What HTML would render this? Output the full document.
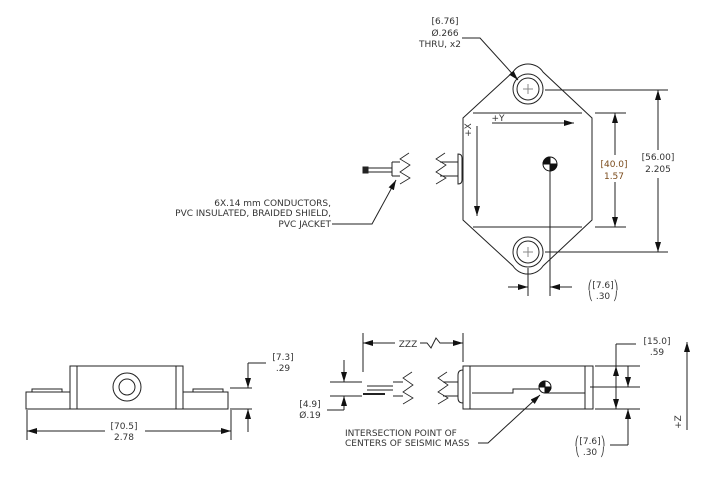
<!DOCTYPE html>
<html><head><style>
html,body{margin:0;padding:0;background:#fff;}
svg{display:block;}
text{font-family:"DejaVu Sans","Liberation Sans",sans-serif;font-size:9px;fill:#333;}
.b{fill:#7a4a1a;}
</style></head><body>
<svg width="724" height="478" viewBox="0 0 724 478" xmlns="http://www.w3.org/2000/svg">
<defs>
<marker id="a" markerWidth="10" markerHeight="6" refX="10" refY="3" orient="auto" markerUnits="userSpaceOnUse"><path d="M0,0 L10,3 L0,6z" fill="#111"/></marker>
</defs>
<g stroke="#222" stroke-width="1" fill="none">
<!-- top view body -->
<path d="M463,118 L513,72 A18,18 0 0 1 543,72 L592,118 L592,220 L543,266 A18,18 0 0 1 513,266 L463,220 Z"/>
<line x1="473" y1="113" x2="582" y2="113"/>
<line x1="473" y1="227" x2="582" y2="227"/>
<circle cx="528" cy="89" r="15"/><circle cx="528" cy="89" r="11"/>
<circle cx="528" cy="252" r="15"/><circle cx="528" cy="252" r="11"/>
<path d="M523,89h10M528,84v10M523,252h10M528,247v10" stroke="#888"/>
<line x1="492" y1="123" x2="574" y2="123" marker-end="url(#a)"/>
<line x1="477" y1="126" x2="477" y2="216" marker-end="url(#a)"/>
<!-- connector top -->
<path d="M458,154 Q462,154 462,158 L462,180 Q462,184 458,184 Z" fill="#fff"/>
<line x1="440" y1="162" x2="458" y2="162"/><line x1="440" y1="176" x2="458" y2="176"/>
<path d="M445,153 L436,159 L446,165 L436,172 L446,178 L436,184" stroke-width="0.8"/>
<path d="M409,153 L400,159 L410,165 L400,172 L410,178 L400,184" stroke-width="0.8"/>
<line x1="392" y1="162" x2="400" y2="162"/><line x1="392" y1="176" x2="400" y2="176"/>
<line x1="392" y1="162" x2="392" y2="176"/>
<line x1="367" y1="168" x2="392" y2="168"/><line x1="367" y1="172" x2="392" y2="172"/>
<rect x="363" y="167" width="5" height="6" fill="#222"/>
<path d="M332,224 L372,224 L396,180" marker-end="url(#a)"/>
<!-- hole leader -->
<path d="M462,38 L480,38 L518,80" marker-end="url(#a)"/>
<!-- dims top -->
<line x1="545" y1="90" x2="668" y2="90"/><line x1="545" y1="252" x2="668" y2="252"/>
<line x1="658" y1="150" x2="658" y2="90" marker-end="url(#a)"/>
<line x1="658" y1="178" x2="658" y2="252" marker-end="url(#a)"/>
<line x1="595" y1="113" x2="626" y2="113"/><line x1="595" y1="227" x2="626" y2="227"/>
<line x1="615" y1="155" x2="615" y2="113" marker-end="url(#a)"/>
<line x1="615" y1="182" x2="615" y2="227" marker-end="url(#a)"/>
<line x1="550" y1="164" x2="550" y2="296"/>
<line x1="528" y1="268" x2="528" y2="296"/>
<line x1="508" y1="287" x2="528" y2="287" marker-end="url(#a)"/>
<line x1="572" y1="287" x2="550" y2="287" marker-end="url(#a)"/>
<!-- bottom left view -->
<rect x="26" y="392" width="202" height="17"/>
<rect x="70" y="366" width="113" height="43" fill="#fff"/>
<line x1="77" y1="366" x2="77" y2="409"/><line x1="176" y1="366" x2="176" y2="409"/>
<rect x="32" y="389" width="30" height="3"/><rect x="193" y="389" width="30" height="3"/>
<circle cx="127" cy="387" r="14"/><circle cx="127" cy="387" r="8"/>
<line x1="230" y1="388" x2="252" y2="388"/><line x1="230" y1="409" x2="252" y2="409"/>
<line x1="248" y1="363" x2="248" y2="388" marker-end="url(#a)"/>
<line x1="248" y1="432" x2="248" y2="409" marker-end="url(#a)"/>
<line x1="248" y1="363" x2="266" y2="363"/>
<line x1="27" y1="410" x2="27" y2="440"/><line x1="231" y1="410" x2="231" y2="440"/>
<line x1="105" y1="431" x2="27" y2="431" marker-end="url(#a)"/>
<line x1="145" y1="431" x2="231" y2="431" marker-end="url(#a)"/>
<!-- bottom right view -->
<rect x="463" y="366" width="130" height="43"/>
<line x1="470" y1="366" x2="470" y2="409"/><line x1="585" y1="366" x2="585" y2="409"/>
<path d="M472,393 L513,393 L513,389 L545,389 M545,393 L585,393"/>
<line x1="515" y1="409" x2="540" y2="409"/>
<path d="M463,370 Q458,370 458,375 L458,398 Q458,403 463,403"/>
<line x1="443" y1="382" x2="458" y2="382"/><line x1="443" y1="396" x2="458" y2="396"/>
<path d="M447,372 L438,378 L448,385 L438,392 L448,398 L438,404" stroke-width="0.8"/>
<path d="M412,372 L403,378 L413,385 L403,392 L413,398 L403,404" stroke-width="0.8"/>
<line x1="393" y1="382" x2="403" y2="382"/><line x1="393" y1="396" x2="403" y2="396"/>
<line x1="367" y1="386" x2="393" y2="386"/><line x1="367" y1="390" x2="393" y2="390"/>
<line x1="363" y1="394" x2="385" y2="394" stroke-width="2"/>
<line x1="330" y1="382" x2="362" y2="382"/><line x1="330" y1="396" x2="362" y2="396"/>
<line x1="344" y1="360" x2="344" y2="382" marker-end="url(#a)"/>
<line x1="344" y1="410" x2="344" y2="396" marker-end="url(#a)"/>
<line x1="327" y1="410" x2="344" y2="410"/>
<line x1="363" y1="333" x2="363" y2="372"/><line x1="463" y1="333" x2="463" y2="362"/>
<line x1="395" y1="343" x2="363" y2="343" marker-end="url(#a)"/>
<path d="M420,343 L427,343 L431,348 L436,338 L440,343 L442,343"/>
<line x1="442" y1="343" x2="463" y2="343" marker-end="url(#a)"/>
<path d="M478,443 L488,443 L540,395" marker-end="url(#a)"/>
<line x1="595" y1="366" x2="640" y2="366"/><line x1="595" y1="409" x2="640" y2="409"/>
<line x1="590" y1="387" x2="640" y2="387"/>
<path d="M636,344 L616,344"/>
<line x1="616" y1="344" x2="616" y2="366"/>
<line x1="616" y1="388" x2="616" y2="366" marker-end="url(#a)"/>
<line x1="616" y1="388" x2="616" y2="409" marker-end="url(#a)"/>
<line x1="628" y1="366" x2="628" y2="387" marker-end="url(#a)"/>
<line x1="628" y1="445" x2="628" y2="409" marker-end="url(#a)"/>
<line x1="610" y1="445" x2="628" y2="445"/>
<line x1="687" y1="430" x2="687" y2="342" marker-end="url(#a)"/>
</g>
<!-- mass symbols -->
<g stroke="#111">
<circle cx="550" cy="164" r="7" fill="#fff"/>
<path d="M550,164 L550,157 A7,7 0 0 0 543,164Z M550,164 L550,171 A7,7 0 0 0 557,164Z" fill="#111"/>
<circle cx="545" cy="387" r="6" fill="#fff"/>
<path d="M545,387 L545,381 A6,6 0 0 0 539,387Z M545,387 L545,393 A6,6 0 0 0 551,387Z" fill="#111"/>
</g>
<!-- text -->
<g text-anchor="middle">
<text x="445" y="24">[6.76]</text>
<text x="445" y="36">Ø.266</text>
<text x="440" y="47">THRU, x2</text>
<text x="498" y="121" font-size="8">+Y</text>
<text transform="translate(471,130) rotate(-90)" font-size="8">+X</text>
<text x="614" y="167" class="b">[40.0]</text>
<text x="614" y="179" class="b">1.57</text>
<text x="658" y="160">[56.00]</text>
<text x="658" y="172">2.205</text>
<text x="603" y="288">⎛[7.6]⎞</text>
<text x="603" y="299">⎝ .30 ⎠</text>
<text x="283" y="360">[7.3]</text>
<text x="283" y="371">.29</text>
<text x="124" y="429">[70.5]</text>
<text x="124" y="440">2.78</text>
<text x="310" y="407">[4.9]</text>
<text x="310" y="418">Ø.19</text>
<text x="408" y="347">ZZZ</text>
<text x="657" y="344">[15.0]</text>
<text x="657" y="355">.59</text>
<text x="590" y="444">⎛[7.6]⎞</text>
<text x="590" y="455">⎝ .30 ⎠</text>
<text transform="translate(681,422) rotate(-90)" font-size="8">+Z</text>
</g>
<g text-anchor="end">
<text x="331" y="206">6X.14 mm CONDUCTORS,</text>
<text x="331" y="216">PVC INSULATED, BRAIDED SHIELD,</text>
<text x="331" y="227">PVC JACKET</text>
</g>
<text x="345" y="436">INTERSECTION POINT OF</text>
<text x="345" y="446">CENTERS OF SEISMIC MASS</text>
</svg>
</body></html>
